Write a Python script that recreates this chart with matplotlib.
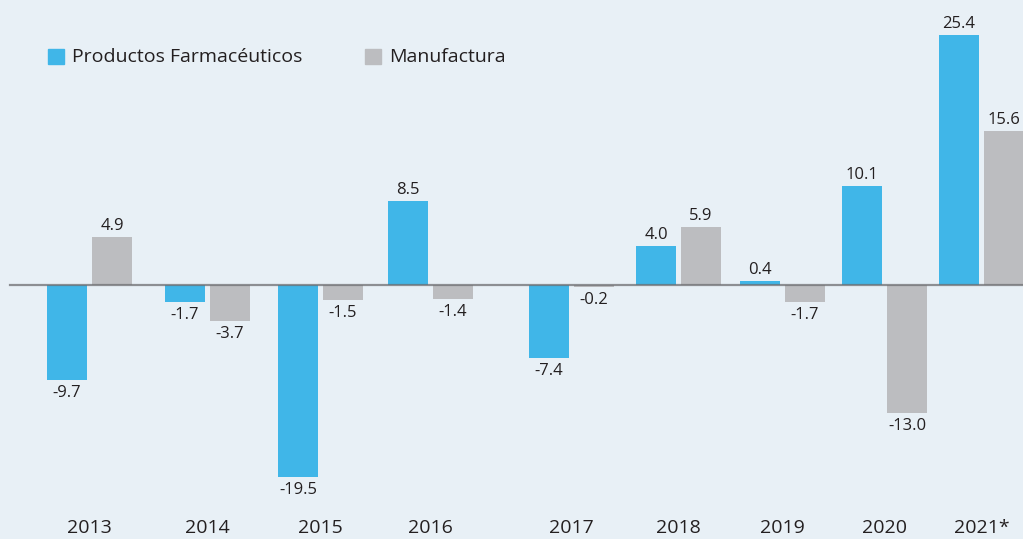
"""
Productos Farmacéuticos vs Manufactura, variación anual (%)
"""

import matplotlib
matplotlib.use("Agg")
import matplotlib.pyplot as plt
from matplotlib.patches import Rectangle
import numpy as np

# datos
years = ["2013", "2014", "2015", "2016", "2017", "2018", "2019", "2020", "2021*"]
farma = [-9.7, -1.7, -19.5, 8.5, -7.4, 4.0, 0.4, 10.1, 25.4]
manuf = [4.9, -3.7, -1.5, -1.4, -0.2, 5.9, -1.7, -13.0, 15.6]

# posiciones de cada grupo (en pixeles del lienzo)
group_x = [89.5, 207.5, 320.5, 430.5, 571.5, 678.5, 782.5, 884.5, 981.5]

BG = "#e8f0f6"
BLUE = "#40b6e8"
GRAY = "#bcbdc0"
TXT = "#231f20"
plt.rcParams["font.family"] = ["Open Sans", "DejaVu Sans"]

W, H = 1023, 539
fig = plt.figure(figsize=(W / 100, H / 100), dpi=100, facecolor=BG)
ax = fig.add_axes([0, 0, 1, 1])
ax.set_facecolor(BG)

px_per_unit = 250 / 25.4
zero_y = 285
ax.set_xlim(0, W)
ax.set_ylim(-(H - zero_y) / px_per_unit, zero_y / px_per_unit)
ax.axis("off")

bw = 40
off = 22.5
gx = np.array(group_x)
b1 = ax.bar(gx - off, farma, width=bw, color=BLUE, zorder=2)
b2 = ax.bar(gx + off, manuf, width=bw, color=GRAY, zorder=2)

ax.plot([10, W], [0, 0], color="#6d6e71", lw=1.6, alpha=0.75, zorder=3)

def label(bars, vals):
    for r, v in zip(bars, vals):
        x = r.get_x() + r.get_width() / 2
        if v >= 0:
            ax.annotate(f"{v:.1f}", (x, v), xytext=(0, 3), textcoords="offset pixels",
                        ha="center", va="bottom", fontsize=12, color=TXT)
        else:
            ax.annotate(f"{v:.1f}", (x, v), xytext=(0, -5), textcoords="offset pixels",
                        ha="center", va="top", fontsize=12, color=TXT)

label(b1, farma)
label(b2, manuf)

# años abajo
for x, y in zip(gx, years):
    fig.text(x / W, 1 - 528 / H, y, ha="center", va="center", fontsize=14,
             color=TXT)

# leyenda
def legend_item(x0, color, text):
    fig.patches.append(Rectangle((x0 / W, 1 - 64 / H), 16 / W, 15 / H,
                                 transform=fig.transFigure, color=color))
    fig.text((x0 + 24) / W, 1 - 57 / H, text, ha="left", va="center",
             fontsize=14, color=TXT)

legend_item(48, BLUE, "Productos Farmacéuticos")
legend_item(365, GRAY, "Manufactura")

fig.savefig("out.png", dpi=100, facecolor=BG)
